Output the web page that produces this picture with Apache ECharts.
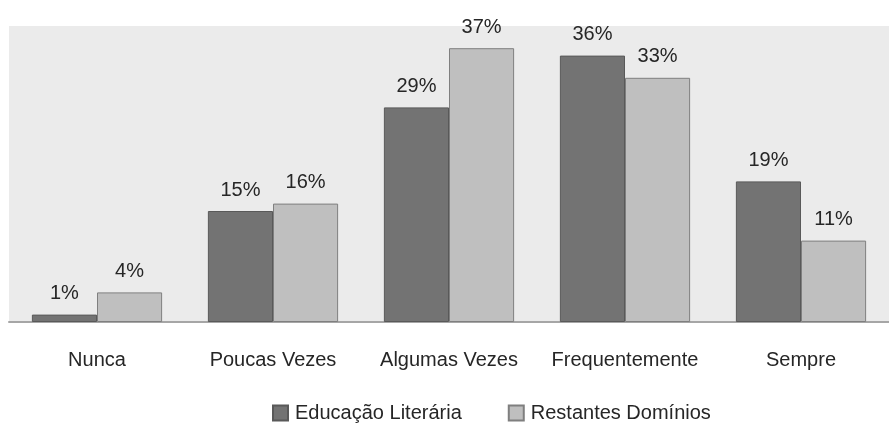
<!DOCTYPE html>
<html><head><meta charset="utf-8">
<script src="https://cdn.jsdelivr.net/npm/echarts@6/dist/echarts.min.js"></script>
<style>html,body{margin:0;padding:0;background:#fff}#c{width:889px;height:423px}</style>
</head><body><div id="c"></div>
<script>
const categories = ['Nunca', 'Poucas Vezes', 'Algumas Vezes', 'Frequentemente', 'Sempre'];
const educacaoLiteraria = [1, 15, 29, 36, 19];
const restantesDominios = [4, 16, 37, 33, 11];
const seriesNames = ['Educação Literária', 'Restantes Domínios'];
const FONT = '"Liberation Sans", sans-serif';
const chart = echarts.init(document.getElementById('c'), null, {renderer: 'canvas'});
const lbl = {show: true, position: 'top', distance: 11, formatter: p => p.value + '%', color: '#262626', fontSize: 20, fontFamily: FONT};
chart.setOption({
  animation: false,
  grid: {left: 9, right: 0, top: 26, bottom: 101, show: true, backgroundColor: '#ebebeb', borderWidth: 0},
  legend: {top: 398, left: 267, icon: 'rect', itemWidth: 15, itemHeight: 15, itemGap: 46,
    textStyle: {fontSize: 20, fontFamily: FONT, color: '#262626', padding: [0, 0, 0, 2]}, data: seriesNames},
  xAxis: {type: 'category', data: categories,
    axisLine: {lineStyle: {color: '#a6a6a6', width: 2}}, axisTick: {show: false},
    axisLabel: {interval: 0, fontSize: 20, fontFamily: FONT, color: '#262626', margin: 28}},
  yAxis: {type: 'value', min: 0, max: 40, show: false, splitLine: {show: false}},
  series: [
    {name: seriesNames[0], type: 'bar', data: educacaoLiteraria, barGap: '0%', barCategoryGap: '26%',
     itemStyle: {color: '#737373', borderColor: '#595959', borderWidth: 1}, label: lbl},
    {name: seriesNames[1], type: 'bar', data: restantesDominios,
     itemStyle: {color: '#bfbfbf', borderColor: '#7f7f7f', borderWidth: 1}, label: lbl}
  ]
});
</script></body></html>
